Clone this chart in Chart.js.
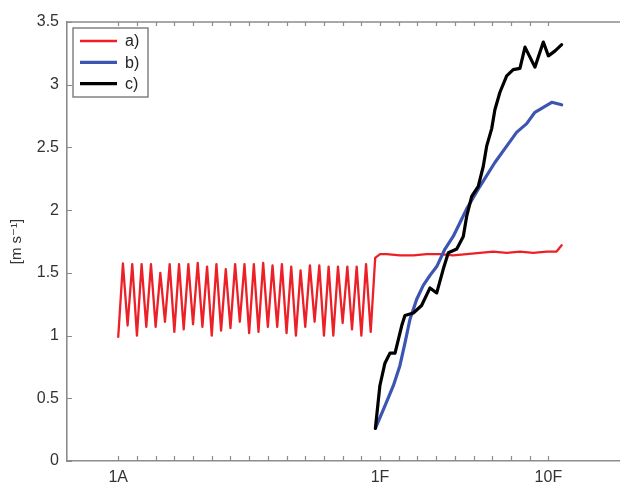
<!DOCTYPE html>
<html>
<head>
<meta charset="utf-8">
<script src="https://cdn.jsdelivr.net/npm/chart.js@4"></script>
<style>
  html, body { margin: 0; padding: 0; background: #fff; }
  #wrap { width: 620px; height: 485px; }
</style>
</head>
<body>
<div id="wrap"><canvas id="chart" width="620" height="485"></canvas></div>
<script>
// series a) - red
const aX = [0, 0.25, 0.5, 0.75, 1, 1.25, 1.5, 1.75, 2, 2.25, 2.5, 2.75, 3, 3.25, 3.5, 3.75,
  4, 4.25, 4.5, 4.75, 5, 5.25, 5.5, 5.75, 6, 6.25, 6.5, 6.75, 7, 7.25, 7.5, 7.75,
  8, 8.25, 8.5, 8.75, 9, 9.25, 9.5, 9.75, 10, 10.25, 10.5, 10.75, 11, 11.25, 11.5, 11.75,
  12, 12.25, 12.5, 12.75, 13, 13.25, 13.5, 13.74,
  14, 14.35, 15.06, 15.78, 16.49, 17.2, 17.91, 18.63, 19.34, 20.05, 20.77, 21.48, 22.19, 22.91, 23.44, 23.71];
const aY = [0.99, 1.575, 1.08, 1.57, 1.0, 1.57, 1.07, 1.57, 1.07, 1.50, 1.11, 1.57, 1.03, 1.57, 1.05, 1.57,
  1.09, 1.58, 1.07, 1.55, 1.0, 1.57, 1.04, 1.53, 1.06, 1.57, 1.11, 1.57, 1.02, 1.57, 1.03, 1.58,
  1.07, 1.56, 1.07, 1.57, 1.02, 1.55, 1.0, 1.52, 1.07, 1.56, 1.11, 1.56, 1.0, 1.55, 1.0, 1.55,
  1.10, 1.55, 1.05, 1.55, 1.0, 1.57, 1.03, 1.62,
  1.65, 1.65, 1.64, 1.64, 1.65, 1.65, 1.64, 1.65, 1.66, 1.67, 1.66, 1.67, 1.66, 1.67, 1.67, 1.72];

// series b) - blue
const bX = [13.75, 14.26, 14.71, 15.06, 15.33, 15.6, 15.96, 16.31, 16.67, 17.03, 17.47, 17.91,
  18.27, 18.63, 19.34, 20.14, 20.77, 21.3, 21.84, 22.28, 22.73, 23.18, 23.71];
const bY = [0.26, 0.44, 0.60, 0.76, 0.94, 1.13, 1.29, 1.40, 1.48, 1.55, 1.69, 1.79,
  1.90, 2.01, 2.19, 2.38, 2.51, 2.62, 2.69, 2.78, 2.82, 2.86, 2.84];

// series c) - black
const cX = [13.75, 13.99, 14.26, 14.53, 14.8, 15.16, 15.33, 15.78, 16.22, 16.67, 17.03, 17.38,
  17.65, 18.1, 18.45, 18.63, 18.9, 19.25, 19.52, 19.7, 19.97, 20.14, 20.41, 20.77, 21.12,
  21.48, 21.75, 22.28, 22.73, 23.0, 23.36, 23.71];
const cY = [0.26, 0.60, 0.78, 0.86, 0.86, 1.08, 1.16, 1.18, 1.24, 1.38, 1.34, 1.53,
  1.66, 1.69, 1.79, 1.95, 2.11, 2.19, 2.35, 2.51, 2.65, 2.80, 2.94, 3.07, 3.12,
  3.13, 3.30, 3.14, 3.34, 3.23, 3.27, 3.32];

const seriesNames = ['a)', 'b)', 'c)'];
const xTickValues = [0, 14, 23];
const xTickLabels = ['1A', '1F', '10F'];
const xMinorTicks = [0, 1, 2, 3, 4, 5, 6, 7, 8, 9, 10, 11, 12, 13, 14, 15, 16, 17, 18, 19, 20, 21, 22, 23];
const yTitle = '[m s\u207B\u00B9]';

const axisColor = '#8c8c8c';
const fontFamily = '"Liberation Sans", Arial, sans-serif';

function pts(xs, ys) {
  return xs.map((x, i) => ({ x: x, y: ys[i] }));
}

// inward tick marks, top border and the boxed legend
const framePlugin = {
  id: 'frame',
  afterDraw(chart) {
    const ctx = chart.ctx;
    const area = chart.chartArea;
    const xs = chart.scales.x;
    const ys = chart.scales.y;
    ctx.save();
    ctx.strokeStyle = axisColor;
    ctx.lineWidth = 1.6;
    ctx.beginPath();
    ctx.moveTo(area.left, area.top);
    ctx.lineTo(area.right, area.top);
    ctx.stroke();
    ctx.lineWidth = 1.2;
    ctx.beginPath();
    xs.ticks.forEach(t => {
      const px = Math.round(xs.getPixelForValue(t.value)) + 0.5;
      ctx.moveTo(px, area.bottom);
      ctx.lineTo(px, area.bottom - 5);
      ctx.moveTo(px, area.top);
      ctx.lineTo(px, area.top + 4);
    });
    ys.ticks.forEach(t => {
      const py = Math.round(ys.getPixelForValue(t.value)) + 0.5;
      ctx.moveTo(area.left, py);
      ctx.lineTo(area.left + 5, py);
    });
    ctx.stroke();

    // legend
    const bx = area.left + 6, by = area.top + 6, bw = 75, bh = 69;
    ctx.fillStyle = '#fff';
    ctx.fillRect(bx, by, bw, bh);
    ctx.strokeStyle = '#7a7a7a';
    ctx.lineWidth = 1.4;
    ctx.strokeRect(bx, by, bw, bh);
    ctx.font = '16px ' + fontFamily;
    ctx.textBaseline = 'middle';
    ctx.textAlign = 'left';
    chart.data.datasets.forEach((ds, i) => {
      const yy = by + 13 + i * 21.3;
      ctx.strokeStyle = ds.borderColor;
      ctx.lineWidth = ds.borderWidth;
      ctx.beginPath();
      ctx.moveTo(bx + 7, yy);
      ctx.lineTo(bx + 44, yy);
      ctx.stroke();
      ctx.fillStyle = '#222';
      ctx.fillText(ds.label, bx + 52, yy + 1);
    });
    ctx.restore();
  }
};

const ctx = document.getElementById('chart').getContext('2d');
const chart = new Chart(ctx, {
  type: 'line',
  data: {
    datasets: [
      {
        label: seriesNames[0],
        data: pts(aX, aY),
        borderColor: '#ec2027',
        borderWidth: 2.3,
        order: 2
      },
      {
        label: seriesNames[1],
        data: pts(bX, bY),
        borderColor: '#3d55b2',
        borderWidth: 3.2,
        order: 1
      },
      {
        label: seriesNames[2],
        data: pts(cX, cY),
        borderColor: '#000000',
        borderWidth: 3.2,
        order: 0
      }
    ]
  },
  options: {
    responsive: false,
    animation: false,
    devicePixelRatio: 1,
    layout: { padding: { top: 22, right: 0, left: 0, bottom: 0 } },
    elements: {
      point: { radius: 0 },
      line: { tension: 0, borderJoinStyle: 'round', borderCapStyle: 'round' }
    },
    plugins: {
      legend: { display: false },
      tooltip: { enabled: false }
    },
    scales: {
      x: {
        type: 'linear',
        min: -2.74,
        max: 26.83,
        afterBuildTicks: axis => {
          axis.ticks = xMinorTicks.map(v => ({ value: v }));
        },
        afterFit: axis => { axis.height = 24; },
        grid: { display: false, drawTicks: false },
        border: { display: true, color: axisColor, width: 1.6 },
        ticks: {
          autoSkip: false,
          maxRotation: 0,
          padding: 7,
          color: '#333',
          font: { family: fontFamily, size: 16 },
          callback: value => {
            const i = xTickValues.indexOf(value);
            return i >= 0 ? xTickLabels[i] : '';
          }
        }
      },
      y: {
        min: 0,
        max: 3.5,
        afterFit: axis => { axis.width = 67; },
        grid: { display: false, drawTicks: false },
        border: { display: true, color: axisColor, width: 1.6 },
        ticks: {
          stepSize: 0.5,
          padding: 8,
          color: '#333',
          font: { family: fontFamily, size: 16 },
          callback: value => String(value)
        },
        title: {
          display: true,
          text: yTitle,
          color: '#333',
          padding: { top: 8, bottom: 0 },
          font: { family: '"Liberation Sans", "DejaVu Sans", Arial, sans-serif', size: 15 }
        }
      }
    }
  },
  plugins: [framePlugin]
});
</script>
</body>
</html>
